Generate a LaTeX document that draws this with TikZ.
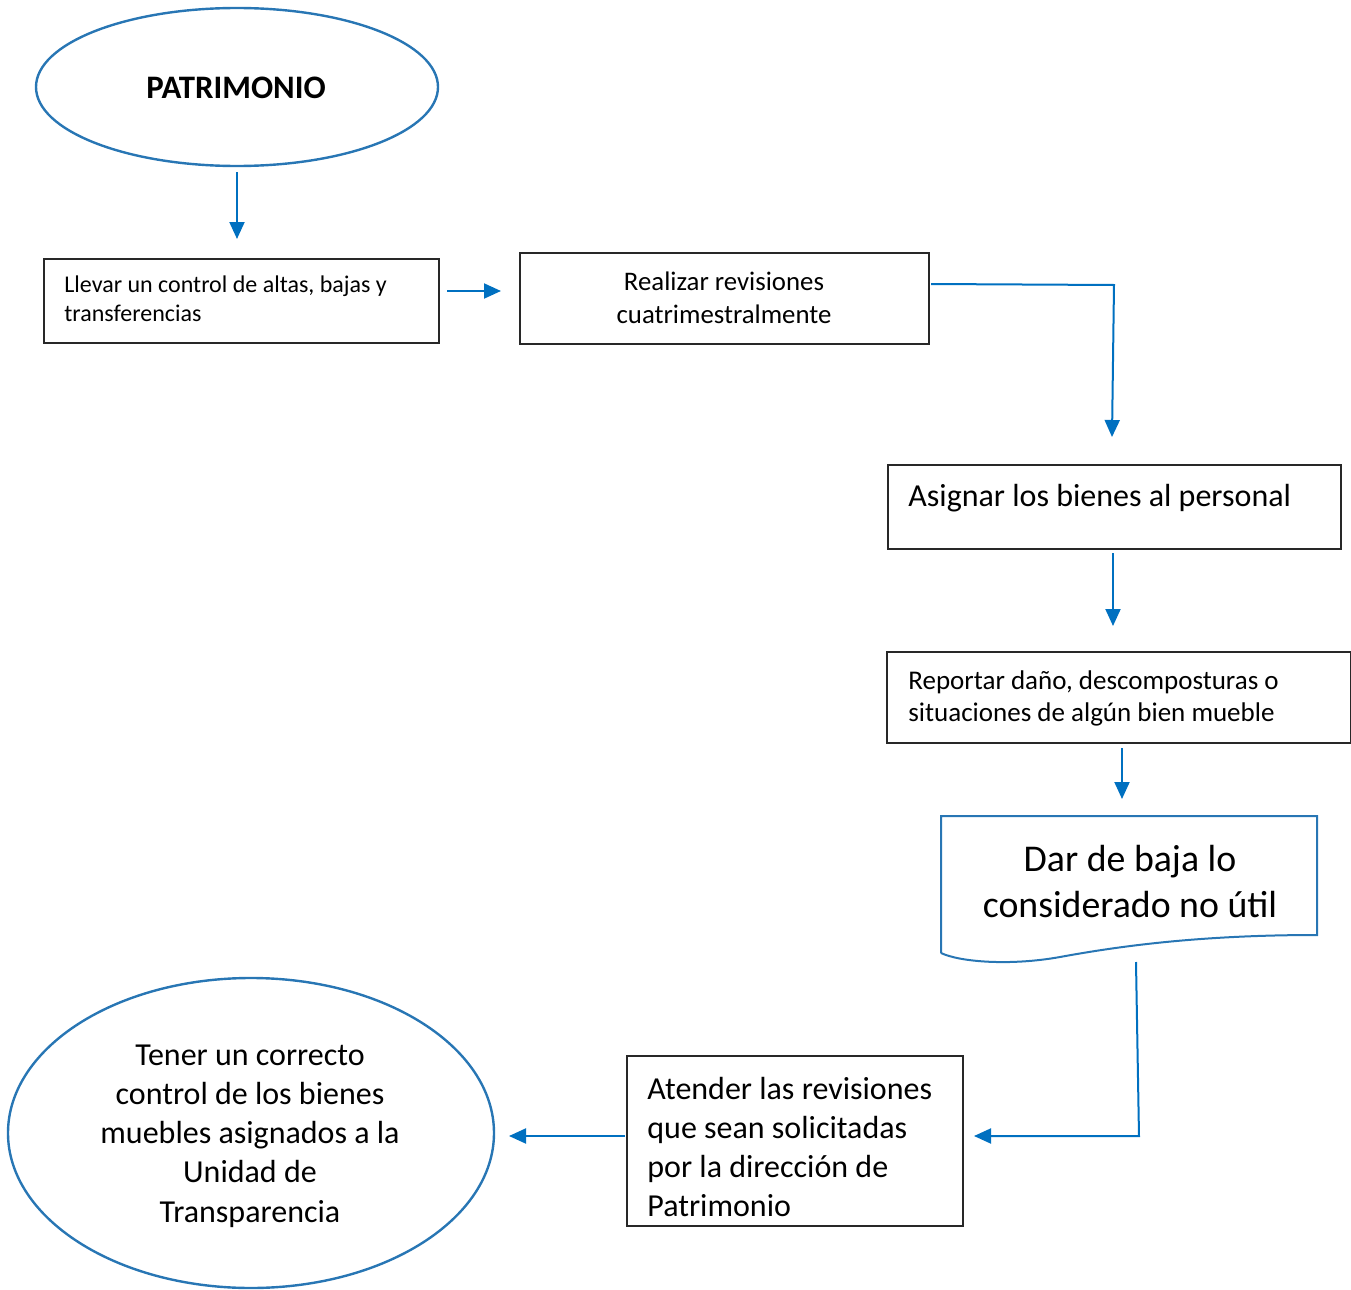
\documentclass[tikz,border=0pt]{standalone}
\usepackage{fontspec}
\setmainfont{Carlito}
\usetikzlibrary{arrows.meta,shapes.geometric}
\definecolor{flowblue}{RGB}{0,112,192}
\definecolor{shapeblue}{RGB}{40,118,180}
\definecolor{boxline}{RGB}{40,40,40}
\begin{document}
\begin{tikzpicture}[x=0.5pt,y=-0.5pt,
  flow/.style={draw=flowblue,line width=1pt,-{Triangle[length=8.5pt,width=7.5pt]}},
  stepbox/.style={draw=boxline,line width=0.7pt,rectangle,inner sep=0pt},
  oval/.style={draw=shapeblue,line width=1.2pt,ellipse,inner sep=0pt},
  txt/.style={inner sep=0pt,text=black}]
\useasboundingbox (0,0) rectangle (1351,1290);

% start and end ovals
\node[oval,minimum width=201pt,minimum height=79pt] (start) at (237,87) {};
\node[txt,font=\bfseries\fontsize{16.4}{19}\selectfont] (startt) at (236,88) {PATRIMONIO};
\node[oval,minimum width=243pt,minimum height=155pt] (goal) at (251,1133) {};
\node[txt,align=center,font=\fontsize{16}{19.6}\selectfont] (goalt) at (250,1136)
  {Tener un correcto\\control de los bienes\\muebles asignados a la\\Unidad de\\Transparencia};

% process boxes
\node[stepbox,minimum width=197.5pt,minimum height=42pt] (b1) at (241.5,301) {};
\node[txt,anchor=west,align=left,font=\fontsize{12}{14.5}\selectfont] (b1t) at (64,299)
  {Llevar un control de altas, bajas y\\transferencias};
\node[stepbox,minimum width=204.5pt,minimum height=45.5pt] (b2) at (724.5,298.5) {};
\node[txt,align=center,font=\fontsize{13.4}{16.5}\selectfont] (b2t) at (724,298)
  {Realizar revisiones\\cuatrimestralmente};
\node[stepbox,minimum width=226.5pt,minimum height=42pt] (b3) at (1114.5,507) {};
\node[txt,anchor=west,font=\fontsize{16}{19}\selectfont] (b3t) at (908,498)
  {Asignar los bienes al personal};
\node[stepbox,minimum width=232pt,minimum height=45.5pt] (b4) at (1119,697.5) {};
\node[txt,anchor=west,align=left,font=\fontsize{13.5}{16}\selectfont] (b4t) at (908,698)
  {Reportar daño, descomposturas o\\situaciones de algún bien mueble};
\node[stepbox,minimum width=168pt,minimum height=85pt] (b5) at (795,1141) {};
\node[txt,anchor=west,align=left,font=\fontsize{16}{19.5}\selectfont] (b5t) at (647,1147)
  {Atender las revisiones\\que sean solicitadas\\por la dirección de\\Patrimonio};

% document shape with wavy lower edge
\node[inner sep=0pt,minimum width=188pt,minimum height=70pt] (doc) at (1129,886) {};
\draw[draw=shapeblue,line width=1pt]
  (941,953) -- (941,816) -- (1317,816) -- (1317,935)
  .. controls (1200,935) and (1120,946) .. (1060,957)
  .. controls (1010,966) and (960,962) .. (941,953);
\node[txt,align=center,font=\fontsize{18.9}{23}\selectfont] (doct) at (1130,882)
  {Dar de baja lo\\considerado no útil};

% connectors
\coordinate (c1) at (1114,285);
\coordinate (c2) at (1139,1136);
\draw[flow] (931,284) -- (c1) -- (1112,437);
\draw[flow] (237,172) -- (237,239);
\draw[flow] (447,291) -- (501,291);
\draw[flow] (1113,553) -- (1113,626);
\draw[flow] (1122,748) -- (1122,799);
\draw[flow] (1136,962) -- (c2) -- (974,1136);
\draw[flow] (625,1136) -- (509,1136);
\end{tikzpicture}
\end{document}
